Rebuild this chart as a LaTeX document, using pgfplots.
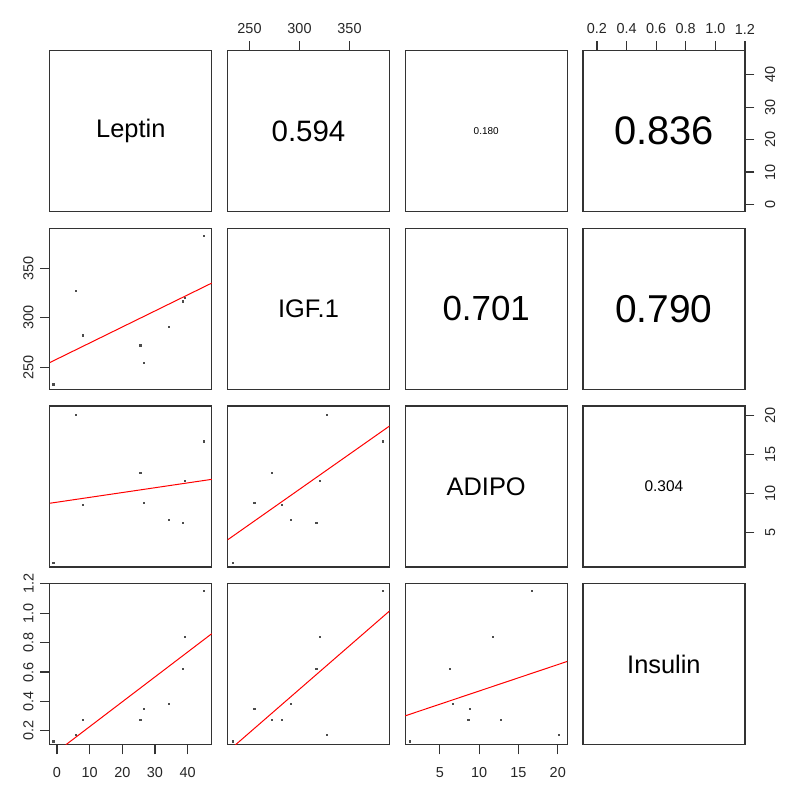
\documentclass[border=0pt]{standalone}
\usepackage{fontspec}
\setmainfont{Liberation Sans}
\usepackage{pgfplots}
\usepackage{pgfplotstable}
\pgfplotsset{compat=1.18}

\pgfplotstableread{
lep igf adipo ins
-1.2 233.2 1.2 0.130
5.7 327.3 20.1 0.175
7.9 282.5 8.6 0.277
25.5 272.5 12.7 0.277
26.6 254.8 8.8 0.352
34.2 291.0 6.65 0.386
38.4 316.7 6.3 0.625
39.1 320.5 11.7 0.839
44.9 383.0 16.7 1.152
}\data

\pgfplotsset{
  panel/.style={scale only axis, width=162bp, height=161bp, anchor=north west,
    xtick=\empty, ytick=\empty,
    axis line style={line width=1.3bp, black!80},
    tick style={line width=1.2bp, black!80},
    tick align=outside, major tick length=9.5bp,
    tick label style={font=\fontsize{14.5}{14.5}\selectfont, inner sep=0pt, text=black!85},
    /pgf/number format/assume math mode=true,
    clip=true},
  xlep/.style={xmin=-2.2, xmax=47.4},
  ylep/.style={ymin=-2.2, ymax=47.4},
  xigf/.style={xmin=228, xmax=390},
  yigf/.style={ymin=228, ymax=390},
  xadi/.style={xmin=0.6, xmax=21.2},
  yadi/.style={ymin=0.6, ymax=21.2},
  xins/.style={xmin=0.105, xmax=1.2},
  yins/.style={ymin=0.105, ymax=1.2},
  pts/.style={only marks, mark=square*, mark size=0.65bp, black!70},
  fit/.style={red, line width=1bp, no marks},
  topticks/.style={xtick pos=right, xticklabel pos=right, xticklabel shift=7bp},
  bottomticks/.style={xtick pos=left, xticklabel pos=left, xticklabel shift=13bp},
  leftticks/.style={ytick pos=left, yticklabel pos=left, yticklabel shift=6.5bp,
    yticklabel style={rotate=90, anchor=south}},
  rightticks/.style={ytick pos=right, yticklabel pos=right, yticklabel shift=10.5bp,
    yticklabel style={rotate=90, anchor=north}},
  onedec/.style={/pgf/number format/.cd, fixed, fixed zerofill, precision=1},
}

\newcommand{\fs}[1]{\fontsize{#1}{#1}\selectfont}

\begin{document}
\begin{tikzpicture}
\useasboundingbox (0,0) rectangle (792bp,-789bp);

% ---------- Row 1 ----------
\begin{axis}[panel, at={(49.8bp,-50.7bp)}, xlep, ylep]
\node at (rel axis cs:0.5,0.5) {\fs{25.5}Leptin};
\end{axis}
\begin{axis}[panel, at={(227.5bp,-50.7bp)}, xigf, ylep, topticks, xtick={250,300,350}]
\node at (rel axis cs:0.5,0.5) {\fs{29.6}0.594};
\end{axis}
\begin{axis}[panel, at={(405.2bp,-50.7bp)}, xadi, ylep]
\node at (rel axis cs:0.5,0.5) {\fs{10}0.180};
\end{axis}
\begin{axis}[panel, at={(582.9bp,-50.7bp)}, xins, ylep, topticks, rightticks,
  xtick={0.2,0.4,0.6,0.8,1.0,1.2}, xticklabel style={onedec}, ytick={0,10,20,30,40}]
\node at (rel axis cs:0.5,0.5) {\fs{40}0.836};
\end{axis}

% ---------- Row 2 ----------
\begin{axis}[panel, at={(49.8bp,-228.4bp)}, xlep, yigf, leftticks, ytick={250,300,350}]
\addplot[pts] table[x=lep, y=igf] {\data};
\addplot[fit] coordinates {(-2.2,255) (47.4,335)};
\end{axis}
\begin{axis}[panel, at={(227.5bp,-228.4bp)}, xigf, yigf]
\node at (rel axis cs:0.5,0.5) {\fs{25.5}IGF.1};
\end{axis}
\begin{axis}[panel, at={(405.2bp,-228.4bp)}, xadi, yigf]
\node at (rel axis cs:0.5,0.5) {\fs{35}0.701};
\end{axis}
\begin{axis}[panel, at={(582.9bp,-228.4bp)}, xins, yigf]
\node at (rel axis cs:0.5,0.5) {\fs{39}0.790};
\end{axis}

% ---------- Row 3 ----------
\begin{axis}[panel, at={(49.8bp,-406.1bp)}, xlep, yadi]
\addplot[pts] table[x=lep, y=adipo] {\data};
\addplot[fit] coordinates {(-2.2,8.77) (47.4,11.83)};
\end{axis}
\begin{axis}[panel, at={(227.5bp,-406.1bp)}, xigf, yadi]
\addplot[pts] table[x=igf, y=adipo] {\data};
\addplot[fit] coordinates {(228,4.08) (390,18.65)};
\end{axis}
\begin{axis}[panel, at={(405.2bp,-406.1bp)}, xadi, yadi]
\node at (rel axis cs:0.5,0.5) {\fs{25.5}ADIPO};
\end{axis}
\begin{axis}[panel, at={(582.9bp,-406.1bp)}, xins, yadi, rightticks, ytick={5,10,15,20}]
\node at (rel axis cs:0.5,0.5) {\fs{15.5}0.304};
\end{axis}

% ---------- Row 4 ----------
\begin{axis}[panel, at={(49.8bp,-583.8bp)}, xlep, yins, leftticks, bottomticks,
  xtick={0,10,20,30,40}, ytick={0.2,0.4,0.6,0.8,1.0,1.2}, yticklabel style={onedec}]
\addplot[pts] table[x=lep, y=ins] {\data};
\addplot[fit] coordinates {(2.7,0.105) (47.4,0.861)};
\end{axis}
\begin{axis}[panel, at={(227.5bp,-583.8bp)}, xigf, yins]
\addplot[pts] table[x=igf, y=ins] {\data};
\addplot[fit] coordinates {(236,0.105) (390,1.015)};
\end{axis}
\begin{axis}[panel, at={(405.2bp,-583.8bp)}, xadi, yins, bottomticks, xtick={5,10,15,20}]
\addplot[pts] table[x=adipo, y=ins] {\data};
\addplot[fit] coordinates {(0.6,0.302) (21.2,0.672)};
\end{axis}
\begin{axis}[panel, at={(582.9bp,-583.8bp)}, xins, yins]
\node at (rel axis cs:0.5,0.5) {\fs{25.5}Insulin};
\end{axis}
\end{tikzpicture}
\end{document}
